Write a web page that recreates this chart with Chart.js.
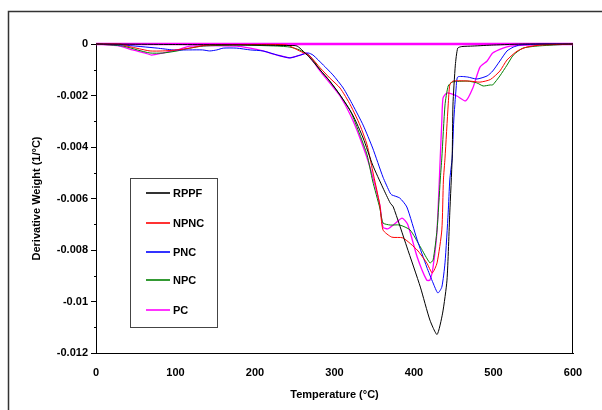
<!DOCTYPE html>
<html>
<head>
<meta charset="utf-8">
<script src="https://cdn.jsdelivr.net/npm/chart.js@4.4.0/dist/chart.umd.min.js"></script>
<style>
  html, body { margin: 0; padding: 0; background: #fff; }
  #wrap { width: 602px; height: 410px; }
</style>
</head>
<body>
<div id="wrap"><canvas id="dtg"></canvas></div>
<script>
// DTG curves, values in 1/°C x 10^-3
const rppfT = [0, 100, 200, 240, 253, 269, 282, 294, 307, 323, 336, 348, 361, 370, 374, 391, 408, 420, 429, 436, 441.5, 445, 448, 449, 452, 455, 460, 474, 500, 540, 600];
const rppfV = [0, -0.02, -0.04, -0.06, -0.08, -0.54, -1.01, -1.44, -1.98, -2.76, -3.65, -4.70, -5.59, -6.17, -6.33, -7.88, -9.44, -10.72, -11.28, -10.45, -9.17, -6.56, -4.43, -2.37, -0.82, -0.16, -0.10, -0.08, -0.04, 0, 0];

const npncT = [0, 30, 39, 55, 68, 84, 102, 118, 140, 200, 240, 256, 269, 282, 294, 307, 320, 332, 341, 348, 357, 361, 372, 386, 404, 416, 423, 429, 435, 437, 439, 443, 445, 449, 470, 483, 496, 508, 517, 530, 542, 560, 600];
const npncV = [0, 0, -0.08, -0.19, -0.27, -0.27, -0.23, -0.16, -0.04, -0.02, -0.04, -0.27, -0.47, -0.93, -1.32, -1.71, -2.37, -3.15, -3.92, -4.93, -6.25, -7.22, -7.50, -7.53, -8.00, -8.50, -8.89, -8.50, -7.22, -5.28, -4.43, -2.37, -1.59, -1.44, -1.44, -1.48, -1.38, -1.05, -0.62, -0.27, -0.12, -0.04, 0];

const pncT = [0, 34, 77, 97, 118, 134, 143, 152, 160, 177, 194, 210, 228, 244, 257, 267, 273, 286, 298, 311, 323, 336, 348, 361, 370, 372, 382, 391, 404, 416, 424, 430, 435, 439, 443, 445, 448, 450, 453, 455, 467, 479, 492, 499, 508, 517, 525, 533, 560, 600];
const pncV = [0, -0.04, -0.16, -0.23, -0.23, -0.23, -0.27, -0.23, -0.16, -0.16, -0.23, -0.27, -0.43, -0.54, -0.43, -0.35, -0.43, -0.82, -1.20, -1.71, -2.37, -3.15, -4.04, -5.17, -5.79, -5.86, -5.98, -6.33, -7.61, -8.66, -9.28, -9.67, -9.44, -8.50, -6.56, -5.28, -4.43, -2.99, -1.71, -1.28, -1.28, -1.36, -1.24, -1.05, -0.66, -0.27, -0.12, -0.04, 0, 0];

const npcT = [0, 34, 52, 68, 84, 102, 118, 135, 177, 228, 244, 256, 269, 282, 294, 307, 320, 332, 341, 348, 357, 361, 370, 382, 395, 408, 420, 424, 429, 433, 435, 439, 443, 448, 467, 479, 487, 496, 499, 508, 517, 525, 537, 555, 587, 600];
const npcV = [0, -0.08, -0.23, -0.35, -0.35, -0.27, -0.16, -0.08, -0.04, -0.08, -0.12, -0.23, -0.47, -1.01, -1.44, -1.98, -2.60, -3.53, -4.31, -5.32, -6.37, -6.95, -7.03, -7.03, -7.22, -7.88, -8.50, -8.39, -7.22, -5.28, -4.43, -2.37, -1.63, -1.48, -1.44, -1.51, -1.63, -1.59, -1.59, -1.24, -0.82, -0.43, -0.16, -0.08, -0.02, 0];

// PC trace ends with the return sweep along the zero line
const pcT = [0, 30, 46, 62, 70, 84, 102, 118, 177, 194, 210, 228, 244, 257, 265, 282, 294, 307, 320, 332, 345, 357, 361, 367, 377, 385, 392, 404, 416, 420, 424, 429, 433, 435, 436.5, 441.5, 454, 465, 474, 483, 492, 499, 512, 521, 540, 600, 0];
const pcV = [0, -0.08, -0.23, -0.35, -0.43, -0.35, -0.23, -0.08, -0.08, -0.16, -0.27, -0.43, -0.54, -0.43, -0.35, -1.05, -1.51, -2.02, -2.76, -3.65, -4.82, -6.25, -7.11, -7.18, -6.95, -6.76, -7.00, -8.27, -9.17, -9.17, -8.66, -7.22, -4.43, -2.99, -2.10, -1.90, -2.02, -2.21, -1.71, -0.90, -0.66, -0.35, -0.16, -0.08, -0.04, 0, 0];

const seriesNames = ['RPPF', 'NPNC', 'PNC', 'NPC', 'PC'];
const seriesColors = ['#000000', '#ff0000', '#0000ff', '#008000', '#ff00ff'];
const xTicks = [0, 100, 200, 300, 400, 500, 600];

const pts = (t, v) => t.map((x, i) => ({x: x, y: v[i] / 1000}));
const allT = [rppfT, npncT, pncT, npcT, pcT];
const allV = [rppfV, npncV, pncV, npcV, pcV];

const FONT = "'Liberation Sans', Arial, sans-serif";

const framePlugin = {
  id: 'frame',
  beforeDatasetsDraw(chart) {
    const {ctx, chartArea: a} = chart;
    ctx.save();
    ctx.strokeStyle = '#000';
    ctx.lineWidth = 1;
    ctx.beginPath();
    ctx.moveTo(a.left, a.top + 0.5);
    ctx.lineTo(a.right - 0.5, a.top + 0.5);
    ctx.lineTo(a.right - 0.5, a.bottom);
    ctx.stroke();
    // minor ticks on y
    const ys = chart.scales.y;
    for (let v = -0.011; v < 0; v += 0.002) {
      const py = Math.round(ys.getPixelForValue(v)) + 0.5;
      ctx.beginPath();
      ctx.moveTo(a.left - 2, py);
      ctx.lineTo(a.left, py);
      ctx.stroke();
    }
    ctx.restore();
  },
  afterDraw(chart) {
    const {ctx} = chart;
    ctx.save();
    // outer frame
    ctx.strokeStyle = '#333';
    ctx.lineWidth = 1.5;
    ctx.strokeRect(8.5, 11.5, 640, 440);
    // legend box
    ctx.lineWidth = 1;
    ctx.strokeStyle = '#444';
    ctx.strokeRect(130.5, 178.5, 87, 149);
    ctx.font = 'bold 11px ' + FONT;
    ctx.textBaseline = 'middle';
    ctx.fillStyle = '#000';
    const rows = [193, 223, 252, 280, 310];
    ctx.lineWidth = 1.6;
    seriesNames.forEach((n, i) => {
      ctx.strokeStyle = seriesColors[i];
      ctx.beginPath();
      ctx.moveTo(146, rows[i]);
      ctx.lineTo(170, rows[i]);
      ctx.stroke();
      ctx.fillText(n, 173, rows[i] + 1);
    });
    ctx.restore();
  }
};

new Chart(document.getElementById('dtg'), {
  type: 'line',
  data: {
    datasets: seriesNames.map((n, i) => ({
      label: n,
      data: pts(allT[i], allV[i]),
      borderColor: seriesColors[i],
      borderWidth: i === 4 ? 1.3 : 1,
      segment: i === 4 ? {borderWidth: c => c.p1DataIndex === pcT.length - 1 ? 2.5 : 1.3} : undefined,
      pointRadius: 0,
      tension: 0.2,
      fill: false,
      clip: 4
    }))
  },
  options: {
    responsive: true,
    maintainAspectRatio: false,
    animation: false,
    layout: {padding: {left: 0, top: 44, right: 29, bottom: 0}},
    plugins: {legend: {display: false}, tooltip: {enabled: false}},
    scales: {
      x: {
        type: 'linear', min: 0, max: 600,
        afterBuildTicks: s => { s.ticks = xTicks.map(v => ({value: v})); },
        afterFit: s => { s.height = 57; },
        grid: {display: true, drawOnChartArea: false, drawTicks: false},
        border: {display: true, color: '#000', width: 1},
        ticks: {color: '#000', padding: 13, font: {family: FONT, size: 11, weight: 'bold'}, maxRotation: 0},
        title: {display: true, text: 'Temperature (°C)', color: '#000', padding: {top: 0, bottom: 8},
                font: {family: FONT, size: 11, weight: 'bold'}}
      },
      y: {
        min: -0.012, max: 0,
        afterFit: s => { s.width = 96; },
        grid: {display: true, drawOnChartArea: false, tickLength: 5, tickColor: '#000'},
        border: {display: true, color: '#000', width: 1},
        ticks: {stepSize: 0.002, color: '#000', padding: 3, autoSkip: false,
                font: {family: FONT, size: 11, weight: 'bold'},
                callback: v => String(parseFloat(v.toFixed(3)))},
        title: {display: true, text: 'Derivative Weight (1/°C)', color: '#000', padding: {top: 30, bottom: 0},
                font: {family: FONT, size: 11, weight: 'bold'}}
      }
    }
  },
  plugins: [framePlugin]
});
</script>
</body>
</html>
